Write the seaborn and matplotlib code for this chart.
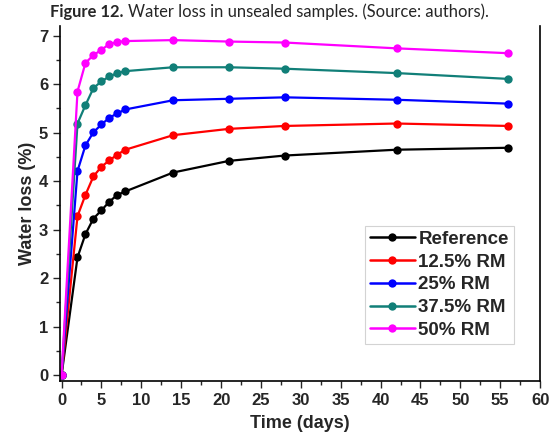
import matplotlib
matplotlib.use("Agg")
import matplotlib.pyplot as plt
from matplotlib.ticker import MultipleLocator
import seaborn as sns
import pandas as pd

days = [0, 2, 3, 4, 5, 6, 7, 8, 14, 21, 28, 42, 56]
reference = [0, 2.43, 2.91, 3.23, 3.40, 3.58, 3.72, 3.79, 4.18, 4.42, 4.53, 4.65, 4.69]
rm_12_5 = [0, 3.28, 3.72, 4.10, 4.30, 4.43, 4.55, 4.65, 4.95, 5.08, 5.14, 5.19, 5.14]
rm_25 = [0, 4.21, 4.74, 5.01, 5.17, 5.31, 5.40, 5.48, 5.67, 5.70, 5.73, 5.68, 5.60]
rm_37_5 = [0, 5.19, 5.57, 5.92, 6.06, 6.16, 6.23, 6.27, 6.35, 6.35, 6.32, 6.23, 6.11]
rm_50 = [0, 5.85, 6.44, 6.60, 6.71, 6.83, 6.87, 6.89, 6.91, 6.88, 6.86, 6.74, 6.64]
series_names = ["Reference", "12.5% RM", "25% RM", "37.5% RM", "50% RM"]
colors = ["#000000", "#FF0000", "#0000FF", "#117F78", "#FF00FF"]

rows = []
for name, vals in zip(series_names, [reference, rm_12_5, rm_25, rm_37_5, rm_50]):
    for d, v in zip(days, vals):
        rows.append({"Time": d, "Loss": v, "Sample": name})
df = pd.DataFrame(rows)

sns.set_style("ticks")
plt.rcParams['font.family'] = ['Liberation Sans', 'DejaVu Sans']

fig = plt.figure(figsize=(5.5, 4.34), dpi=100)
ax = fig.add_axes([0.109, 0.122, 0.873, 0.818])

sns.lineplot(data=df, x="Time", y="Loss", hue="Sample", hue_order=series_names,
             palette=colors, marker="o", markersize=6, markeredgewidth=0,
             linewidth=1.6, ax=ax, legend=True)

ax.set_xlim(-0.2, 60)
ax.set_ylim(-0.12, 7.2)
ax.xaxis.set_major_locator(MultipleLocator(5))
ax.xaxis.set_minor_locator(MultipleLocator(2.5))
ax.yaxis.set_major_locator(MultipleLocator(1))
ax.yaxis.set_minor_locator(MultipleLocator(0.5))
ax.tick_params(which="major", direction="out", length=5, width=1, labelsize=12)
ax.tick_params(which="minor", direction="out", length=3, width=1)
for lab in ax.get_xticklabels() + ax.get_yticklabels():
    lab.set_fontweight("bold")

ax.set_xlabel("Time (days)", fontsize=13, fontweight="bold", labelpad=5)
ax.set_ylabel("Water loss (%)", fontsize=13, fontweight="bold", labelpad=2)

for s in ["left", "bottom", "right"]:
    ax.spines[s].set_visible(True)
    ax.spines[s].set_linewidth(1.2)
    ax.spines[s].set_color("black")
ax.spines["top"].set_visible(False)

leg = ax.legend(loc="upper left", bbox_to_anchor=(305 / 480, 1 - 200 / 355),
                prop={"weight": "bold", "size": 13.5}, frameon=True, fancybox=False,
                handlelength=2.4, handletextpad=0.2, labelspacing=0.3,
                borderpad=0.25, borderaxespad=0)
leg.get_frame().set_edgecolor("#c8c8c8")
leg.get_frame().set_linewidth(0.8)
for line in leg.get_lines():
    line.set_linewidth(1.8)
    line.set_markersize(6)

# Title: bold prefix + normal text, fitted to reference width
title_fam = ["Lato", "DejaVu Sans"]
fs = 11
t1 = fig.text(50 / 550, 1 - 12 / 434, "Figure 12.", fontsize=fs, fontweight="bold",
              family=title_fam, ha="left", va="center")
t2 = fig.text(0, 1 - 12 / 434, "Water loss in unsealed samples. (Source: authors).",
              fontsize=fs, family=title_fam, ha="left", va="center")
fig.canvas.draw()
r = fig.canvas.get_renderer()
w1 = t1.get_window_extent(r).width
w2 = t2.get_window_extent(r).width
gap = 4
scale = 438 / (w1 + gap + w2)
t1.set_fontsize(fs * scale)
t2.set_fontsize(fs * scale)
fig.canvas.draw()
w1 = t1.get_window_extent(r).width
t2.set_x((50 + w1 + gap * scale) / 550)

fig.savefig("out.png", dpi=100)
